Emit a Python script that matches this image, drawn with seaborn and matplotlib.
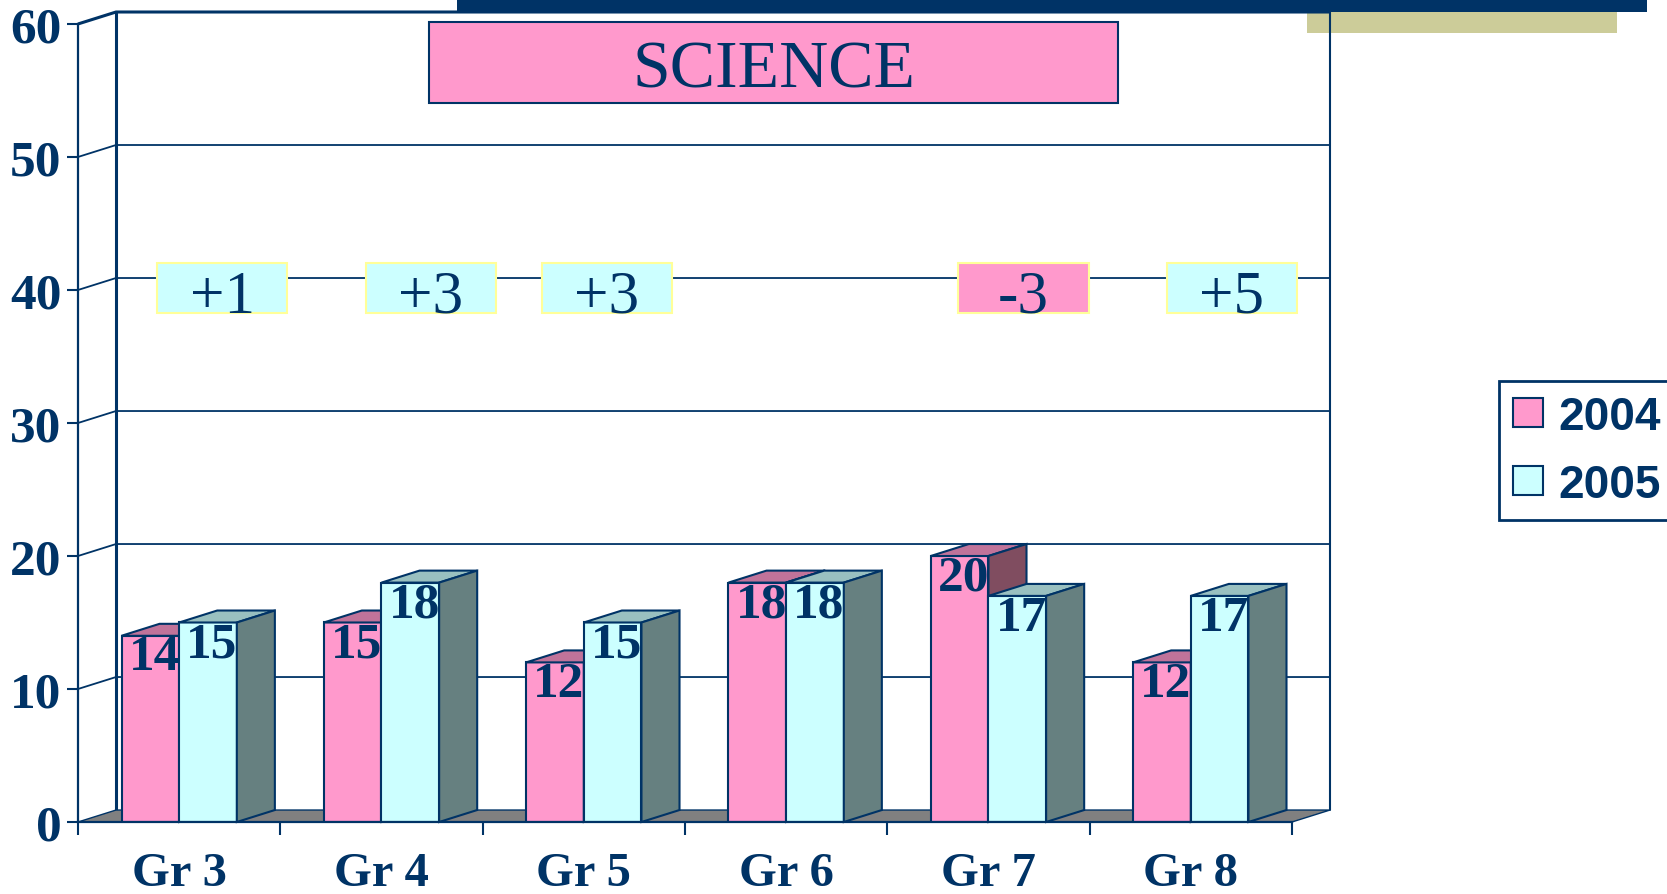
import numpy as np
import pandas as pd
import matplotlib
matplotlib.use("Agg")
import matplotlib.pyplot as plt
from matplotlib.patches import Polygon, Rectangle, Patch
import seaborn as sns

# data
grades = ["Gr 3", "Gr 4", "Gr 5", "Gr 6", "Gr 7", "Gr 8"]
years = ["2004", "2005"]
score_2004 = [14, 15, 12, 18, 20, 12]
score_2005 = [15, 18, 15, 18, 17, 17]
title = "SCIENCE"
y_ticks = [0, 10, 20, 30, 40, 50, 60]

# colours
navy = "#003366"
pink = "#FF99CC"
cyan = "#CCFFFF"
top_col = {"2004": "#C0739A", "2005": "#99C0C0"}
side_col = {"2004": "#804D60", "2005": "#668080"}
floor_col = "#808080"
khaki = "#CCCC99"

df = pd.DataFrame({
    "grade": grades * 2,
    "year": [years[0]] * len(grades) + [years[1]] * len(grades),
    "score": score_2004 + score_2005,
})

sns.set_theme(style="white")
plt.rcParams["font.family"] = ["Liberation Serif", "DejaVu Serif"]

W, H = 1667, 895
fig = plt.figure(figsize=(W / 100, H / 100), dpi=100)
ax = fig.add_axes([78 / W, 1 - 823 / H, (1330 - 78) / W, (823 - 13) / H])
ax.set_facecolor("none")

# depth of the fake 3D
dx, dy = 0.188, 0.9

sns.barplot(data=df, x="grade", y="score", hue="year", palette=[pink, cyan],
            width=0.57, saturation=1, edgecolor=navy, linewidth=1.5,
            legend=False, ax=ax)

ax.set_xlim(-0.5, 5.5 + dx)
ax.set_ylim(0, 60 + dy)

# back wall, grid and floor
for v in y_ticks[1:]:
    lw = 2.2 if v == 60 else 1.3
    ax.plot([-0.5, -0.5 + dx, 5.5 + dx], [v, v + dy, v + dy], color=navy,
            lw=lw, zorder=1, clip_on=False, solid_capstyle="butt")
ax.plot([-0.5 + dx, -0.5 + dx], [dy, 60 + dy], color=navy, lw=2.2, zorder=1, clip_on=False)
ax.plot([5.5 + dx, 5.5 + dx], [dy, 60 + dy], color=navy, lw=1.5, zorder=1, clip_on=False)
ax.add_patch(Polygon([(-0.5, 0), (5.5, 0), (5.5 + dx, dy), (-0.5 + dx, dy)],
                     closed=True, fc=floor_col, ec=navy, lw=1, zorder=2, clip_on=False))

# 3D faces + value labels
for k, (yr, cont) in enumerate(zip(years, ax.containers)):
    for bar in cont:
        x0, w, h = bar.get_x(), bar.get_width(), bar.get_height()
        z = 3 + k
        bar.set_zorder(z)
        ax.add_patch(Polygon([(x0, h), (x0 + w, h), (x0 + w + dx, h + dy), (x0 + dx, h + dy)],
                             closed=True, fc=top_col[yr], ec=navy, lw=1.5, zorder=z, clip_on=False))
        ax.add_patch(Polygon([(x0 + w, 0), (x0 + w + dx, dy), (x0 + w + dx, h + dy), (x0 + w, h)],
                             closed=True, fc=side_col[yr], ec=navy, lw=1.5, zorder=z, clip_on=False))
        ax.text(x0 + w / 2 + 0.02, h + 0.1, f"{h:.0f}", ha="center", va="top",
                fontsize=37, fontweight="bold", color=navy, zorder=z + 0.5)

# change boxes
label_nudge = [0.025, 0.055, -0.074, 0.0, -0.015, 0.015]
for i, (a, b) in enumerate(zip(score_2004, score_2005)):
    d = b - a
    if d == 0:
        continue
    cx = i + dx + label_nudge[i]
    bw, bh, cy = 0.644, 3.76, 40.15
    ax.add_patch(Rectangle((cx - bw / 2, cy - bh / 2), bw, bh, fc=cyan if d > 0 else pink,
                           ec="#FFFF99", lw=1.5, zorder=6))
    ax.text(cx, cy - 0.2, f"{d:+d}", ha="center", va="center_baseline", fontsize=44,
            color=navy, zorder=7)

# axes
for s in ["top", "right"]:
    ax.spines[s].set_visible(False)
ax.spines["left"].set_bounds(0, 60)
ax.spines["bottom"].set_bounds(-0.5, 5.5)
for s in ["left", "bottom"]:
    ax.spines[s].set_color(navy)
    ax.spines[s].set_linewidth(1.6)
    ax.spines[s].set_zorder(8)

ax.set_yticks(y_ticks)
ax.set_yticklabels([str(t) for t in y_ticks])
ax.tick_params(axis="y", direction="out", length=8, width=1.5, color=navy, pad=4,
               labelsize=37, labelcolor=navy, left=True)
ax.set_xticks(range(len(grades)))
ax.set_xticklabels(grades)
ax.set_xticks(np.arange(-0.5, 6, 1.0), minor=True)
ax.tick_params(axis="x", which="major", length=0, pad=21, labelsize=35, labelcolor=navy)
ax.tick_params(axis="x", which="minor", direction="out", length=9, width=1.5, color=navy, bottom=True)
for lab in ax.get_xticklabels() + ax.get_yticklabels():
    lab.set_fontweight("bold")
ax.set_xlabel("")
ax.set_ylabel("")
ax.grid(False)

# title box
fig.add_artist(Rectangle((429 / W, 1 - 104 / H), 689 / W, 81 / H, transform=fig.transFigure,
                         fc=pink, ec=navy, lw=1.5, zorder=5))
fig.text((429 + 1118) / 2 / W, 1 - 71 / H, title, ha="center", va="center",
         fontsize=49, color=navy, zorder=6)

# top decoration
fig.add_artist(Rectangle((457 / W, 1 - 13 / H), 1190 / W, 14 / H, transform=fig.transFigure,
                         fc=navy, ec="none", zorder=5))
fig.add_artist(Rectangle((1307 / W, 1 - 34 / H), 310 / W, 21 / H, transform=fig.transFigure,
                         fc=khaki, ec="none", zorder=-1))

# legend
handles = [Patch(fc=pink, ec=navy, lw=1.5, label=years[0]),
           Patch(fc=cyan, ec=navy, lw=1.5, label=years[1])]
leg = fig.legend(handles=handles, loc="upper left", bbox_to_anchor=(1499 / W, 1 - 382 / H),
                 bbox_transform=fig.transFigure, borderaxespad=0, fancybox=False,
                 framealpha=1, edgecolor=navy, handlelength=0.67, handleheight=0.6,
                 handletextpad=0.33, borderpad=0.3, labelspacing=0.52,
                 prop={"family": "Liberation Sans", "weight": "bold", "size": 33})
leg.get_frame().set_linewidth(2)
for t in leg.get_texts():
    t.set_color(navy)

fig.savefig("out.png", dpi=100)
